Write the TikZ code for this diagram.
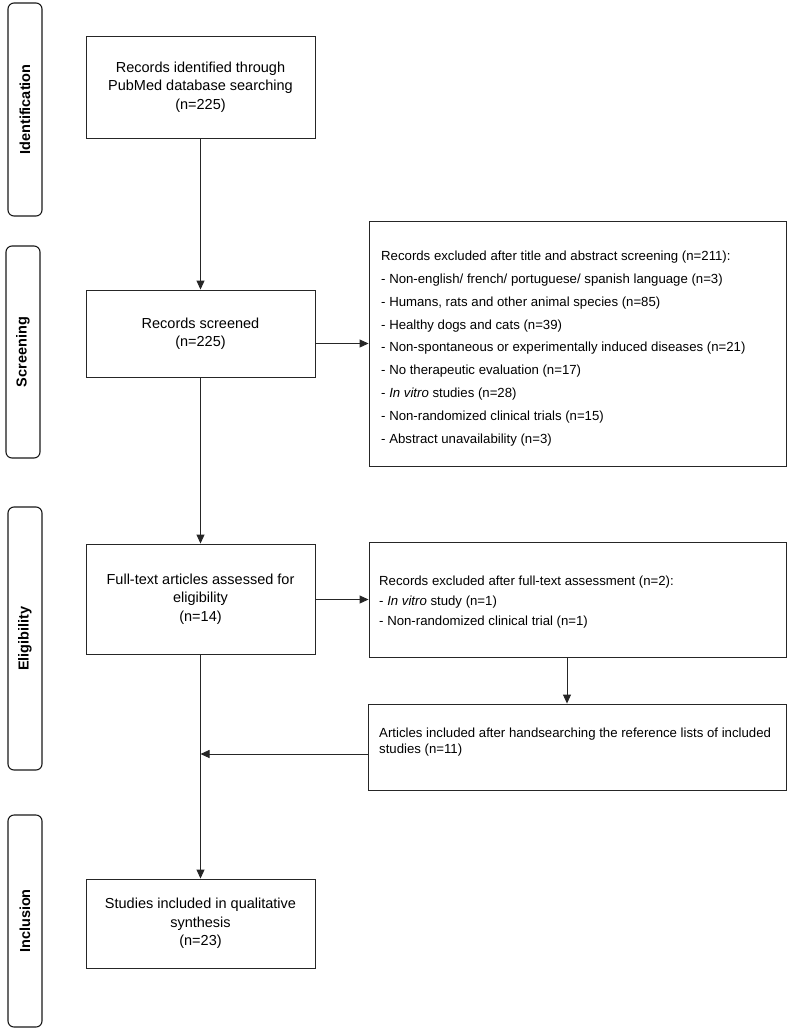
\documentclass[tikz,border=0pt]{standalone}
\usepackage{fontspec}
\setmainfont{Liberation Sans}
\usetikzlibrary{arrows.meta}
\begin{document}
\begin{tikzpicture}[x=1pt,y=-1pt,
  box/.style={draw=black!85,line width=0.9pt,inner sep=0pt},
  mainbox/.style={box,minimum width=229pt,align=center,font=\fontsize{14.5}{18.5}\selectfont},
  sidebox/.style={box,minimum width=417pt},
  stage/.style={draw=black!90,line width=1.1pt,rounded corners=6pt,rotate=90,minimum height=34pt,inner sep=0pt,font=\fontsize{14.5}{17}\selectfont\bfseries},
  listtext/.style={anchor=west,align=left,inner sep=0pt},
  arr/.style={draw=black!85,line width=0.9pt,-{Triangle[length=9pt,width=8pt]}},
]
\useasboundingbox (0,0) rectangle (790,1028);

% stage labels
\node[stage,minimum width=213pt] (sid) at (25,109.5) {Identification};
\node[stage,minimum width=212pt] (sscr) at (23,352) {Screening};
\node[stage,minimum width=263pt] (selig) at (25,638.5) {Eligibility};
\node[stage,minimum width=212pt] (sinc) at (25,921) {Inclusion};

% main column
\node[mainbox,minimum height=102pt] (b1) at (200.5,87) {Records identified through\\PubMed database searching\\(n=225)};
\node[mainbox,minimum height=87pt] (b2) at (200.5,333.5) {Records screened\\(n=225)};
\node[mainbox,minimum height=110pt] (b3) at (200.5,599) {Full-text articles assessed for\\eligibility\\(n=14)};
\node[mainbox,minimum height=89pt] (b4) at (200.5,923.5) {Studies included in qualitative\\synthesis\\(n=23)};

% side boxes
\node[sidebox,minimum height=245pt] (e1) at (577.5,343.5) {};
\node[listtext,font=\fontsize{13.2}{22.9}\selectfont] (e1t) at (381,348.5) {Records excluded after title and abstract screening (n=211):\\
- Non-english/ french/ portuguese/ spanish language (n=3)\\
- Humans, rats and other animal species (n=85)\\
- Healthy dogs and cats (n=39)\\
- Non-spontaneous or experimentally induced diseases (n=21)\\
- No therapeutic evaluation (n=17)\\
- \textit{In vitro} studies (n=28)\\
- Non-randomized clinical trials (n=15)\\
- Abstract unavailability (n=3)};

\node[sidebox,minimum height=115pt] (e2) at (577.5,599.5) {};
\node[listtext,font=\fontsize{13.2}{20}\selectfont] (e2t) at (379,602) {Records excluded after full-text assessment (n=2):\\
- \textit{In vitro} study (n=1)\\
- Non-randomized clinical trial (n=1)};

\node[box,minimum width=418pt,minimum height=86pt] (art) at (577,747) {};
\node[listtext,font=\fontsize{13.2}{16}\selectfont] (artt) at (379,742) {Articles included after handsearching the reference lists of included\\studies (n=11)};

% connectors
\draw[arr] (b1) -- (b2);
\draw[arr] (b2.east |- e1.west) -- (e1.west);
\draw[arr] (b2) -- (b3);
\draw[arr] (b3.east |- e2.west) -- (e2.west);
\draw[arr] ([xshift=-10.5pt]e2.south) -- ([xshift=-10.5pt]e2.south |- art.north);
\draw[arr] (b3) -- (b4);
\coordinate (join) at (200.5,754);
\draw[arr] (art.west |- join) -- (join);
\end{tikzpicture}
\end{document}
